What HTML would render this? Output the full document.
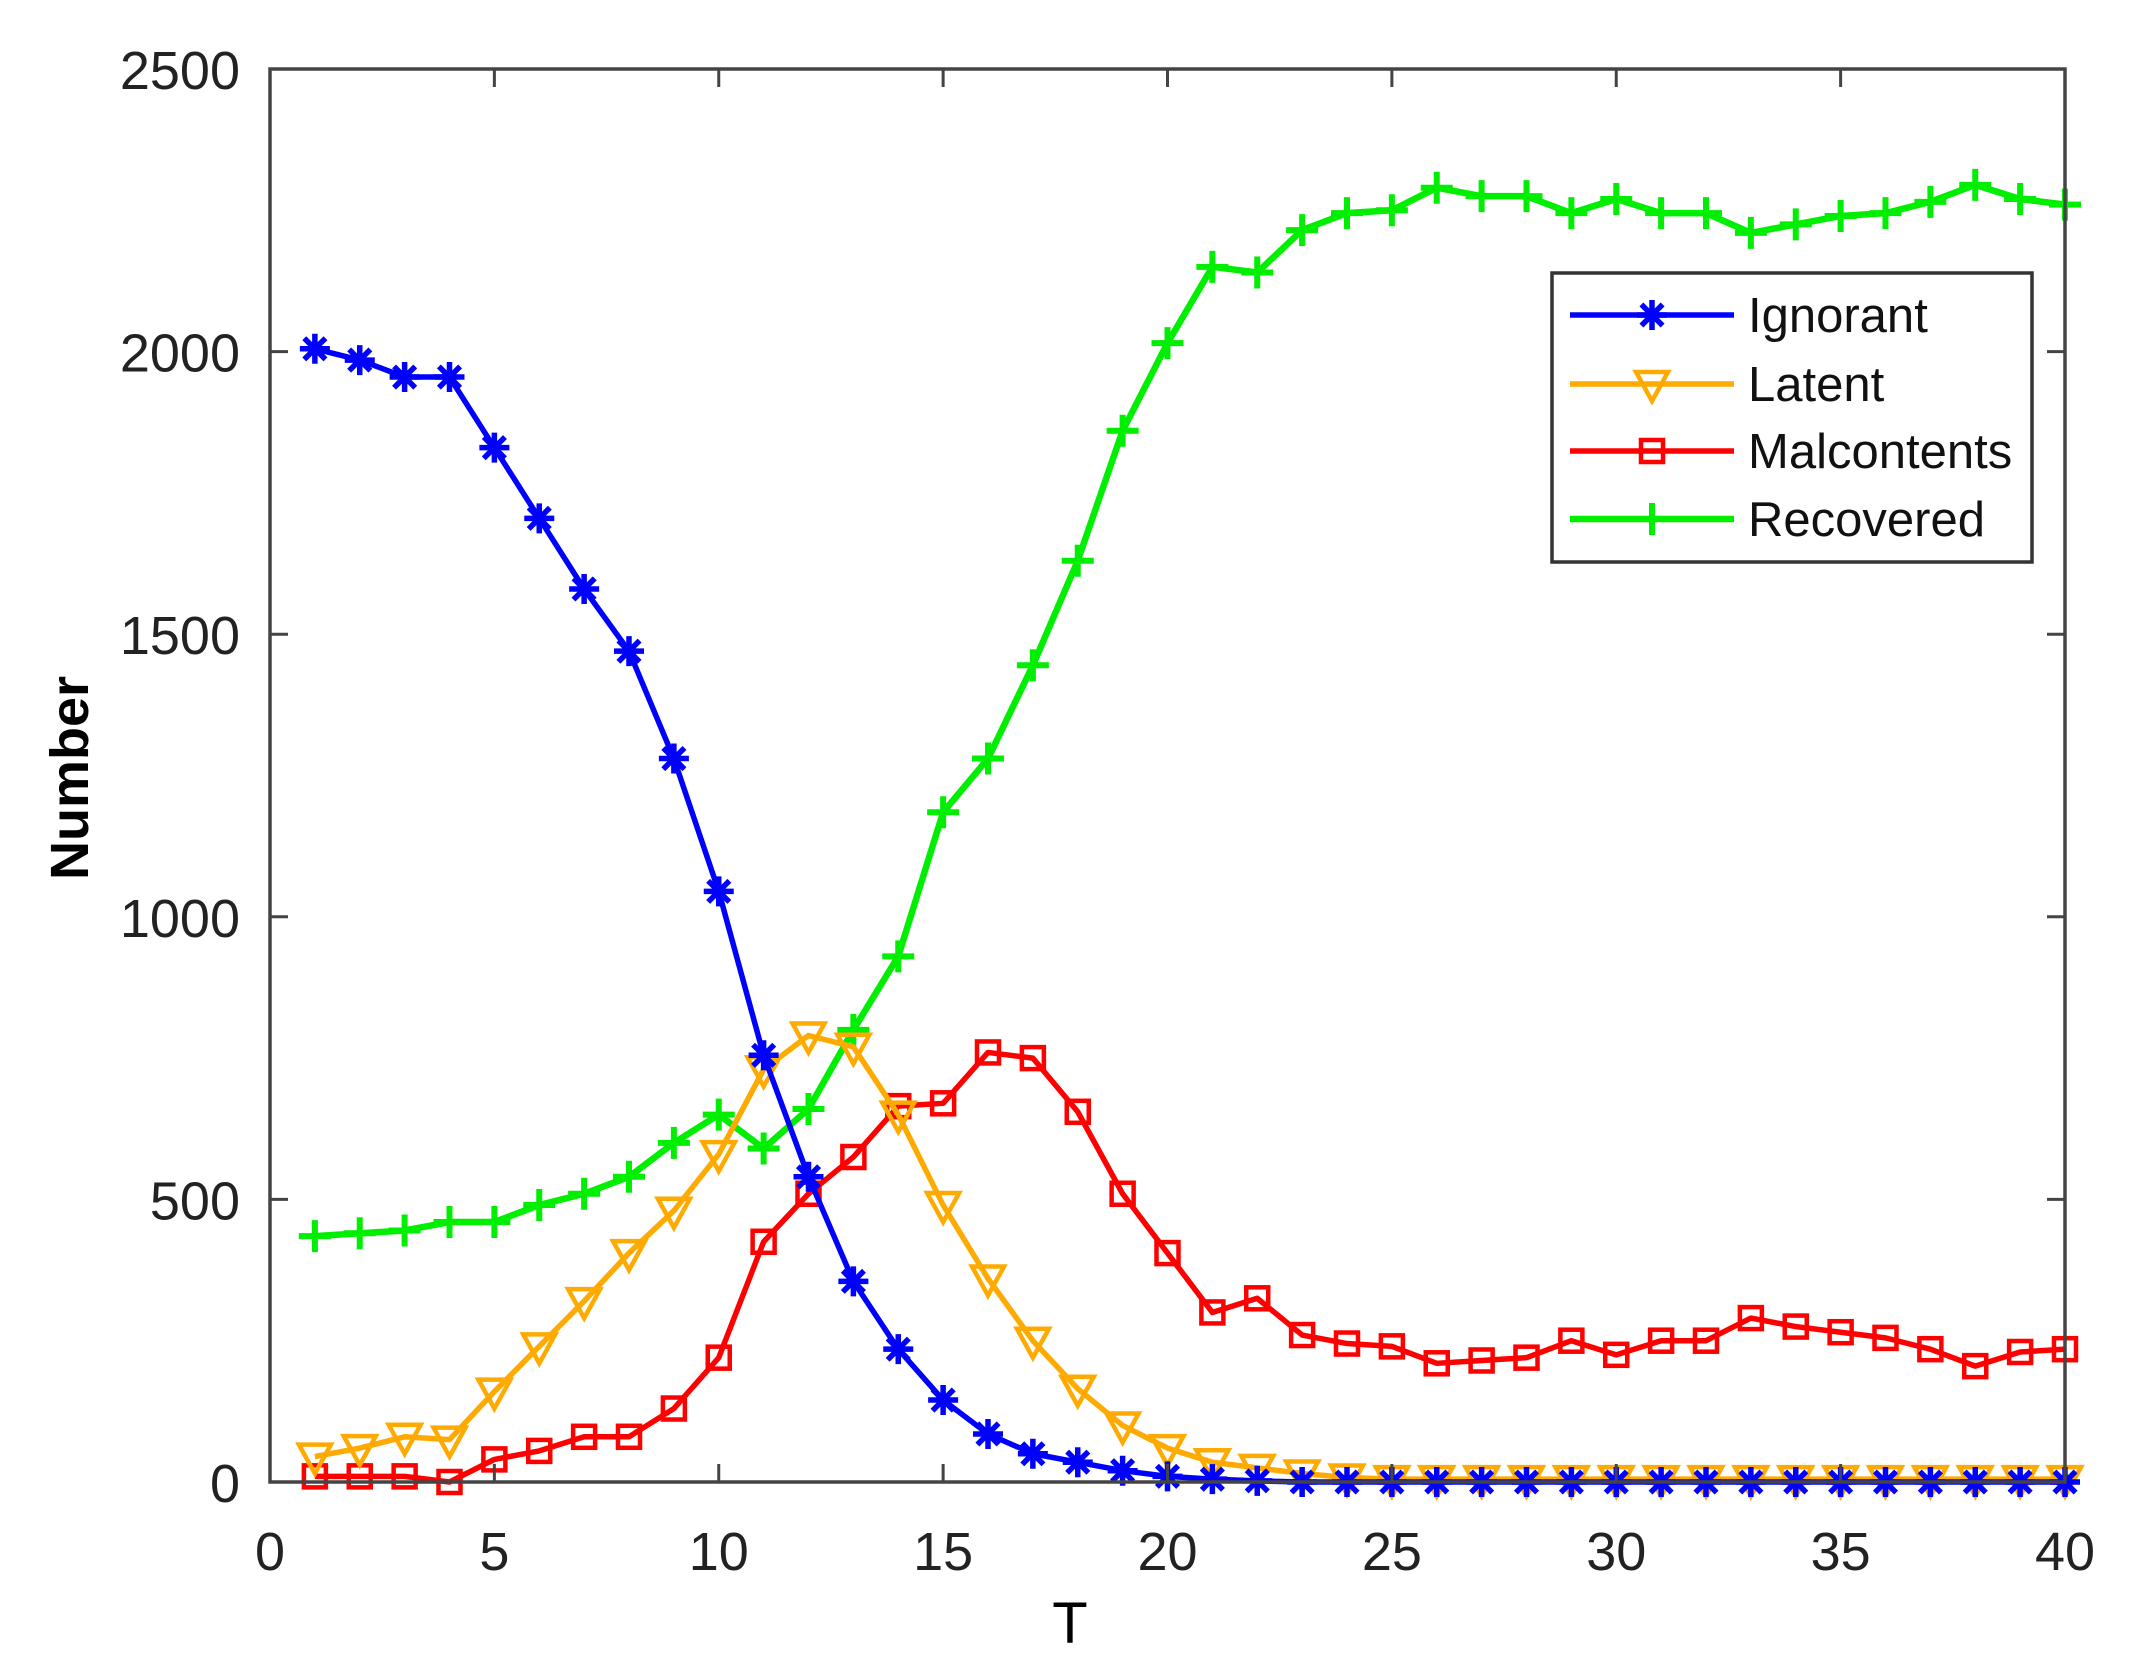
<!DOCTYPE html>
<html><head><meta charset="utf-8"><style>
html,body{margin:0;padding:0;background:#fff;}
svg{display:block;}
text{font-family:"Liberation Sans",Arial,sans-serif;}
</style></head><body>
<svg id="chart" width="2139" height="1680" viewBox="0 0 2139 1680" xmlns="http://www.w3.org/2000/svg">
<g id="series"></g>
<g id="axes"></g>
<g id="legend"></g>
</svg>
<script>
const tValues = [1,2,3,4,5,6,7,8,9,10,11,12,13,14,15,16,17,18,19,20,21,22,23,24,25,26,27,28,29,30,31,32,33,34,35,36,37,38,39,40];
const ignorant = [2005,1985,1955,1955,1830,1705,1580,1470,1280,1045,755,540,355,235,145,85,50,35,20,10,5,2,0,0,0,0,0,0,0,0,0,0,0,0,0,0,0,0,0,0];
const latent = [45,60,80,75,160,240,320,405,480,580,730,790,770,650,490,360,250,165,100,60,35,25,15,8,5,5,5,5,5,5,5,5,5,5,5,5,5,5,5,5];
const malcontents = [10,10,10,0,40,55,80,80,130,220,425,510,575,665,670,760,750,655,510,405,300,325,260,245,240,210,215,220,250,225,250,250,290,275,265,255,235,205,230,235];
const recovered = [435,440,445,460,460,490,510,540,600,650,590,660,800,930,1185,1280,1445,1630,1860,2015,2150,2140,2215,2245,2250,2290,2275,2275,2245,2270,2245,2245,2210,2225,2240,2245,2265,2295,2270,2260];
const xTicks = [0,5,10,15,20,25,30,35,40];
const yTicks = [0,500,1000,1500,2000,2500];
const seriesNames = ["Ignorant","Latent","Malcontents","Recovered"];

const L=270,R=2065,T=69,B=1482;
const X=v=>L+(v-0)/40*(R-L);
const Y=v=>B-(v-0)/2500*(B-T);
const NS="http://www.w3.org/2000/svg";
function mk(tag,attrs,parent){const e=document.createElementNS(NS,tag);for(const k in attrs)e.setAttribute(k,attrs[k]);parent.appendChild(e);return e;}

function marker(type,cx,cy,color,g){
  const s=15;
  if(type==="star"){
    let d="";
    for(let i=0;i<4;i++){const a=i*Math.PI/4;d+=`M${cx-s*Math.cos(a)},${cy-s*Math.sin(a)}L${cx+s*Math.cos(a)},${cy+s*Math.sin(a)}`;}
    const m=mk("path",{d:d,stroke:color,"stroke-width":5.5,fill:"none"},g);
    
    
  } else if(type==="tri"){
    const m=mk("polygon",{points:`${cx-16},${cy-12} ${cx+16},${cy-12} ${cx},${cy+17}`,stroke:color,"stroke-width":4.5,fill:"none"},g);
    
    
  } else if(type==="sq"){
    const m=mk("rect",{x:cx-11,y:cy-11,width:22,height:22,stroke:color,"stroke-width":4.5,fill:"none"},g);
    
    
  } else {
    const m=mk("path",{d:`M${cx-16},${cy}L${cx+16},${cy}M${cx},${cy-16}L${cx},${cy+16}`,stroke:color,"stroke-width":6,fill:"none"},g);
    
    
  }
}

const sg=document.getElementById("series");
const defs=[[recovered,"#00ee00","plus",6.5,"recovered-series"],[malcontents,"#ff0000","sq",5.5,"malcontents-series"],[latent,"#ffaa00","tri",5.5,"latent-series"],[ignorant,"#0000ff","star",5.5,"ignorant-series"]];
defs.forEach(([vals,col,mt,w,name])=>{
  const g=mk("g",{},sg);
  
  
  const pts=vals.map((v,i)=>X(tValues[i])+","+Y(v)).join(" ");
  const pl=mk("polyline",{points:pts,fill:"none",stroke:col,"stroke-width":w,"stroke-linejoin":"round"},g);
  
  
  vals.forEach((v,i)=>marker(mt,X(tValues[i]),Y(v),col,g));
});

const ax=document.getElementById("axes");
const box=mk("rect",{x:L,y:T,width:R-L,height:B-T,fill:"none",stroke:"#444","stroke-width":3.5},ax);


xTicks.forEach(v=>{
  const x=X(v);
  mk("line",{x1:x,y1:B,x2:x,y2:B-18,stroke:"#444","stroke-width":3},ax);
  mk("line",{x1:x,y1:T,x2:x,y2:T+18,stroke:"#444","stroke-width":3},ax);
  const t=mk("text",{x:x,y:1570,"font-size":54,"text-anchor":"middle",fill:"#222"},ax);
  t.textContent=v;
  
  
});
yTicks.forEach(v=>{
  const y=Y(v);
  mk("line",{x1:L,y1:y,x2:L+18,y2:y,stroke:"#444","stroke-width":3},ax);
  mk("line",{x1:R,y1:y,x2:R-18,y2:y,stroke:"#444","stroke-width":3},ax);
  const t=mk("text",{x:240,y:y+20,"font-size":54,"text-anchor":"end",fill:"#222"},ax);
  t.textContent=v;
  
  
});
const xt=mk("text",{x:1070,y:1643,"font-size":58,"text-anchor":"middle",fill:"#000"},ax);
xt.textContent="T";


const yt=mk("text",{x:0,y:0,"font-size":54,"font-weight":"bold","text-anchor":"middle",fill:"#000",transform:"translate(88,778) rotate(-90)"},ax);
yt.textContent="Number";



const lg=document.getElementById("legend");


mk("rect",{x:1552,y:273,width:480,height:289,fill:"#fff",stroke:"#333","stroke-width":3.5},lg);
const rowsY=[315,384,451,519];
const legDefs=[["#0000ff","star",5.5],["#ffaa00","tri",5.5],["#ff0000","sq",5.5],["#00ee00","plus",6.5]];
seriesNames.forEach((n,i)=>{
  const g=mk("g",{},lg);
  
  
  const [c,mt,w]=legDefs[i];
  mk("line",{x1:1570,y1:rowsY[i],x2:1734,y2:rowsY[i],stroke:c,"stroke-width":w},g);
  marker(mt,1652,rowsY[i],c,g);
  const t=mk("text",{x:1748,y:rowsY[i]+17,"font-size":49,fill:"#111"},g);
  t.textContent=n;
});
</script>
</body></html>
